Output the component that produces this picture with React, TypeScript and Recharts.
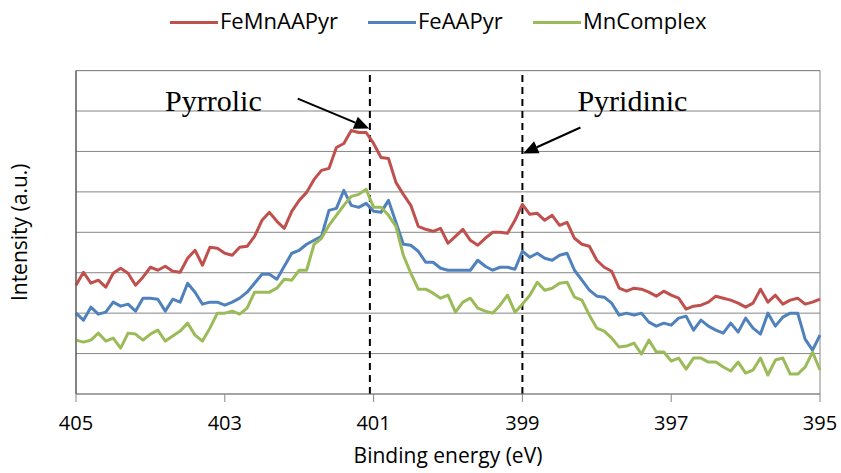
import {
  LineChart,
  Line,
  XAxis,
  YAxis,
  CartesianGrid,
  ReferenceLine,
} from 'recharts'

// binding energy (eV), 0.1 eV steps
const ENERGY = [
  405, 404.9, 404.8, 404.7, 404.6, 404.5, 404.4, 404.3, 404.2, 404.1,
  404, 403.9, 403.8, 403.7, 403.6, 403.5, 403.4, 403.3, 403.2, 403.1,
  403, 402.9, 402.8, 402.7, 402.6, 402.5, 402.4, 402.3, 402.2, 402.1,
  402, 401.9, 401.8, 401.7, 401.6, 401.5, 401.4, 401.3, 401.2, 401.1,
  401, 400.9, 400.8, 400.7, 400.6, 400.5, 400.4, 400.3, 400.2, 400.1,
  400, 399.9, 399.8, 399.7, 399.6, 399.5, 399.4, 399.3, 399.2, 399.1,
  399, 398.9, 398.8, 398.7, 398.6, 398.5, 398.4, 398.3, 398.2, 398.1,
  398, 397.9, 397.8, 397.7, 397.6, 397.5, 397.4, 397.3, 397.2, 397.1,
  397, 396.9, 396.8, 396.7, 396.6, 396.5, 396.4, 396.3, 396.2, 396.1,
  396, 395.9, 395.8, 395.7, 395.6, 395.5, 395.4, 395.3, 395.2, 395.1,
  395,
]

const FE_MN_AAPYR = [
  109, 122, 111, 114, 107, 121, 126, 121, 109, 117,
  127, 124, 128, 123, 122, 136, 144, 129, 147, 146,
  141, 139, 147, 148, 158, 174, 182, 173, 166, 183,
  194, 202, 215, 224, 226, 247, 251, 264, 262, 262,
  251, 237, 236, 212, 200, 189, 168, 165, 163, 166,
  151, 158, 165, 154, 149, 156, 162, 162, 161, 174,
  190, 180, 181, 174, 179, 169, 172, 156, 150, 148,
  134, 127, 123, 106, 103, 106, 105, 102, 98, 103,
  99, 96, 85, 88, 89, 92, 98, 96, 94, 91,
  87, 91, 105, 92, 99, 90, 94, 96, 90, 92,
  95,
]

const FE_AAPYR = [
  81, 74, 87, 80, 82, 92, 88, 90, 83, 96,
  96, 95, 83, 95, 92, 111, 102, 90, 92, 92,
  89, 92, 96, 102, 111, 120, 120, 115, 128, 141,
  144, 150, 154, 158, 184, 186, 204, 189, 187, 191,
  183, 182, 194, 172, 150, 149, 143, 132, 132, 126,
  124, 124, 124, 124, 134, 128, 124, 127, 127, 125,
  143, 137, 141, 136, 134, 139, 141, 124, 114, 104,
  98, 97, 91, 79, 81, 79, 81, 72, 68, 71,
  69, 76, 78, 64, 74, 68, 64, 61, 71, 62,
  76, 66, 60, 81, 68, 77, 81, 81, 55, 44,
  59,
]

const MN_COMPLEX = [
  54, 52, 54, 61, 53, 56, 46, 61, 60, 54,
  60, 64, 53, 58, 63, 71, 59, 53, 66, 81,
  81, 83, 80, 86, 102, 102, 102, 106, 115, 114,
  124, 124, 150, 156, 169, 179, 189, 198, 200, 205,
  187, 187, 179, 168, 139, 121, 105, 105, 101, 96,
  99, 82, 92, 96, 86, 83, 81, 89, 99, 82,
  90, 99, 112, 104, 106, 111, 112, 97, 94, 79,
  66, 63, 56, 47, 48, 51, 40, 54, 42, 42,
  33, 36, 25, 36, 36, 32, 32, 27, 23, 32,
  21, 24, 36, 19, 34, 36, 20, 20, 27, 42,
  24,
]

const X_TICKS = [405, 403, 401, 399, 397, 395]
const Y_TICKS = [0, 40.5, 81, 121.5, 162, 202.5, 243, 283.5, 324]
const X_MIN = 395
const X_MAX = 405
const Y_MAX = 324

// peak markers and annotation arrows (eV / intensity)
const PYRROLIC_E = 401.05
const PYRIDINIC_E = 399
const PYRROLIC_ARROW = [
  { x: 402.02, y: 296 },
  { x: 401.06, y: 266 },
]
const PYRIDINIC_ARROW = [
  { x: 398.22, y: 267 },
  { x: 398.99, y: 241 },
]

const SERIES = [
  { key: 'FeMnAAPyr', color: '#C0504D', left: 170 },
  { key: 'FeAAPyr', color: '#4F81BD', left: 368 },
  { key: 'MnComplex', color: '#9BBB59', left: 533 },
]

const FONT = '"Open Sans", sans-serif'
const GRID = '#868686'

function arrowShape(label: string, dx: number, dy: number, anchor: 'start' | 'end') {
  // eslint-disable-next-line @typescript-eslint/no-explicit-any
  return (props: any) => {
    const { x1, y1, x2, y2 } = props
    const vx = x2 - x1
    const vy = y2 - y1
    const len = Math.hypot(vx, vy) || 1
    const ux = vx / len
    const uy = vy / len
    const head = 15
    const half = 6.5
    const bx = x2 - ux * head
    const by = y2 - uy * head
    const pts = `${x2},${y2} ${bx - uy * half},${by + ux * half} ${bx + uy * half},${by - ux * half}`
    return (
      <g>
        <line x1={x1} y1={y1} x2={bx} y2={by} stroke="#000" strokeWidth={2} />
        <polygon points={pts} fill="#000" />
        <text
          x={x1 + dx}
          y={y1 + dy}
          textAnchor={anchor}
          fontFamily='"Liberation Serif", serif'
          fontSize={30}
          fill="#000"
        >
          {label}
        </text>
      </g>
    )
  }
}

export default function App() {
  const data = ENERGY.map((e, i) => ({
    energy: e,
    FeMnAAPyr: FE_MN_AAPYR[i],
    FeAAPyr: FE_AAPYR[i],
    MnComplex: MN_COMPLEX[i],
  }))

  return (
    <div style={{ position: 'absolute', left: 0, top: 0, width: 841, height: 473, background: '#fff' }}>
      {SERIES.map((s) => (
        <div
          key={s.key}
          style={{
            position: 'absolute',
            left: s.left,
            top: 5,
            display: 'flex',
            alignItems: 'center',
            gap: 2,
            fontFamily: FONT,
            fontSize: 22,
            lineHeight: '30px',
            color: '#000',
          }}
        >
          <span style={{ display: 'inline-block', width: 48, height: 3, marginTop: 4, background: s.color }} />
          <span>{s.key}</span>
        </div>
      ))}
      <LineChart width={841} height={473} data={data} margin={{ top: 70.6, right: 21, bottom: 39, left: 16 }}>
        <CartesianGrid vertical={false} stroke={GRID} strokeWidth={1} />
        <XAxis
          dataKey="energy"
          type="number"
          domain={[X_MIN, X_MAX]}
          reversed
          ticks={X_TICKS}
          interval={0}
          height={40}
          tickSize={8}
          tickMargin={14}
          stroke={GRID}
          tick={{ fill: '#000', fontSize: 20, fontFamily: FONT }}
          label={{
            value: 'Binding energy (eV)',
            position: 'bottom',
            offset: 14,
            style: { fill: '#000', fontSize: 21, fontFamily: FONT },
          }}
        />
        <YAxis
          type="number"
          domain={[0, Y_MAX]}
          ticks={Y_TICKS}
          interval={0}
          width={60}
          tick={() => <g />}
          tickLine={false}
          stroke="#595959"
          label={{
            value: 'Intensity (a.u.)',
            angle: -90,
            position: 'insideLeft',
            offset: 4,
            style: { textAnchor: 'middle', fill: '#000', fontSize: 21, fontFamily: FONT },
          }}
        />
        <ReferenceLine y={Y_MAX} stroke={GRID} strokeWidth={1} />
        <ReferenceLine x={X_MIN} stroke={GRID} strokeWidth={1} />
        <ReferenceLine x={X_MAX} stroke="#595959" strokeWidth={1} />
        <ReferenceLine x={PYRROLIC_E} stroke="#000" strokeWidth={2} strokeDasharray="7 5" />
        <ReferenceLine x={PYRIDINIC_E} stroke="#000" strokeWidth={2} strokeDasharray="7 5" />
        {SERIES.map((s) => (
          <Line
            key={s.key}
            type="linear"
            dataKey={s.key}
            stroke={s.color}
            strokeWidth={3}
            strokeLinejoin="round"
            dot={false}
            isAnimationActive={false}
          />
        ))}
        <ReferenceLine segment={PYRROLIC_ARROW} shape={arrowShape('Pyrrolic', -36, 12, 'end')} />
        <ReferenceLine segment={PYRIDINIC_ARROW} shape={arrowShape('Pyridinic', -3, -16, 'start')} />
      </LineChart>
    </div>
  )
}
